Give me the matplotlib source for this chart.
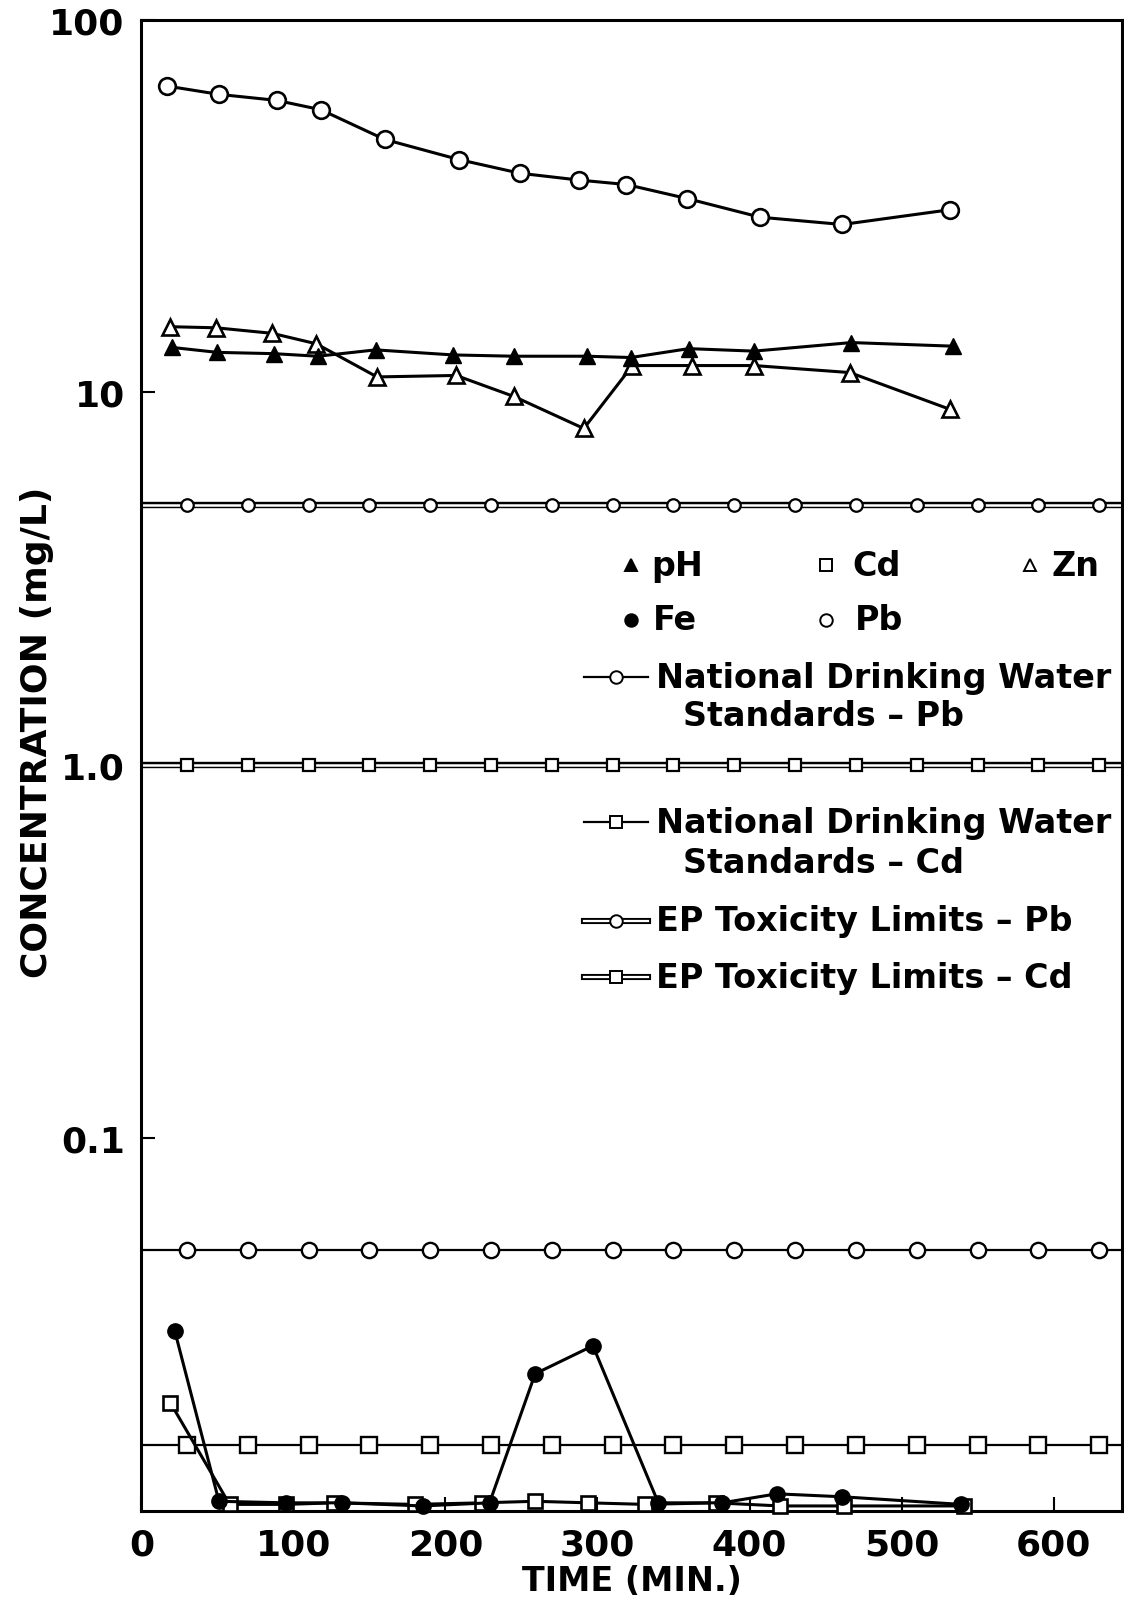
import matplotlib
matplotlib.use("Agg")
import matplotlib.pyplot as plt

plt.rcParams['font.family'] = ['DejaVu Sans']
plt.rcParams['font.weight'] = 'bold'
plt.rcParams['axes.labelweight'] = 'bold'

# data (time in min, concentration in mg/L)
pb_t = [17, 51, 89, 118, 160, 209, 249, 288, 319, 359, 407, 461, 532]
pb_v = [66.3, 63.0, 60.7, 57.3, 47.7, 42.1, 38.7, 37.1, 36.1, 33.1, 29.5, 28.2, 30.9]

zn_t = [19, 49, 86, 115, 155, 207, 245, 291, 323, 362, 403, 466, 532]
zn_v = [15.0, 14.9, 14.4, 13.5, 11.0, 11.1, 9.75, 8.0, 11.8, 11.8, 11.8, 11.3, 9.0]

ph_t = [20, 50, 87, 116, 154, 205, 245, 293, 322, 360, 403, 467, 534]
ph_v = [13.2, 12.8, 12.7, 12.5, 13.0, 12.6, 12.5, 12.5, 12.4, 13.1, 12.9, 13.6, 13.3]

fe_t = [22, 51, 95, 132, 185, 229, 259, 297, 340, 382, 418, 461, 539]
fe_v = [0.0303, 0.0106, 0.0105, 0.0105, 0.0103, 0.0105, 0.0233, 0.0277, 0.0105, 0.0105, 0.0111, 0.0109, 0.0104]

cd_t = [19, 58, 95, 127, 180, 224, 259, 294, 331, 378, 420, 462, 541]
cd_v = [0.0195, 0.0104, 0.0104, 0.0105, 0.0104, 0.0105, 0.0106, 0.0105, 0.0104, 0.0105, 0.0103, 0.0103, 0.0103]

# regulatory limits
ref_t = [30, 70, 110, 150, 190, 230, 270, 310, 350, 390, 430, 470, 510, 550, 590, 630]
ep_pb = 5.0
ep_cd = 1.0
ndw_pb = 0.05
ndw_cd = 0.015

xticks = [0, 100, 200, 300, 400, 500, 600]
yticks = [0.1, 1, 10, 100]
ytick_labels = ['0.1', '1.0', '10', '100']

fig = plt.figure(figsize=(11.24, 16.06), dpi=100)
ax = fig.add_axes([0.1258, 0.0587, 0.8724, 0.9285])
ax.set_yscale('log')
ax.set_xlim(0, 645)
ax.set_ylim(0.01, 100)

# limit lines: double line for EP toxicity, single for drinking water
for val, mk in [(ep_pb, 'o'), (ep_cd, 's')]:
    ax.axhline(val, color='black', lw=4.6, zorder=2)
    ax.axhline(val, color='white', lw=1.8, zorder=2)
    ax.plot(ref_t, [val] * len(ref_t), ls='none', marker=mk, ms=9, mfc='white',
            mec='black', mew=1.6, zorder=3)
for val, mk in [(ndw_pb, 'o'), (ndw_cd, 's')]:
    ax.axhline(val, color='black', lw=1.6, zorder=2)
    ax.plot(ref_t, [val] * len(ref_t), ls='none', marker=mk, ms=11, mfc='white',
            mec='black', mew=1.7, zorder=3)

lw = 2.2
ax.plot(pb_t, pb_v, color='black', lw=lw, marker='o', ms=12, mfc='white', mec='black', mew=1.9, zorder=5)
ax.plot(zn_t, zn_v, color='black', lw=lw, marker='^', ms=11, mfc='white', mec='black', mew=1.9, zorder=5)
ax.plot(ph_t, ph_v, color='black', lw=lw, marker='^', ms=11, mfc='black', mec='black', zorder=6)
ax.plot(cd_t, cd_v, color='black', lw=lw, marker='s', ms=10, mfc='white', mec='black', mew=1.9,
        zorder=5, clip_on=False)
ax.plot(fe_t, fe_v, color='black', lw=lw, marker='o', ms=11, mfc='black', mec='black',
        zorder=6, clip_on=False)

ax.set_xticks(xticks)
ax.set_yticks(yticks)
ax.set_yticklabels(ytick_labels)
ax.minorticks_off()
ax.tick_params(direction='in', length=10, width=1.5, labelsize=26, pad=12)
for s in ax.spines.values():
    s.set_linewidth(2.2)

ax.set_xlabel('TIME (MIN.)', fontsize=24, fontweight='bold', labelpad=2)
fig.text(0.033, 0.544, 'CONCENTRATION (mg/L)', rotation=90, fontsize=26,
         fontweight='bold', ha='center', va='center')

# legend drawn inside the axes
def ax_xy(px, py):
    return (px - 138) / 957, (1476 - py) / 1456

tkw = dict(transform=ax.transAxes, fontsize=24, fontweight='bold', va='center', ha='left')

for px, py, mk, fill, label, tx in [(616, 553, '^', 'black', 'pH', 636),
                                     (806, 553, 's', 'white', 'Cd', 832),
                                     (1005, 553, '^', 'white', 'Zn', 1026),
                                     (616, 606, 'o', 'black', 'Fe', 637),
                                     (806, 606, 'o', 'white', 'Pb', 834)]:
    x, y = ax_xy(px, py)
    ax.plot([x], [y], marker=mk, ms=9, mfc=fill, mec='black', mew=1.4,
            transform=ax.transAxes, clip_on=False)
    x, y = ax_xy(tx, py)
    ax.text(x, y, label, **tkw)

def line_key(py, mk, double):
    x0, y = ax_xy(570, py)
    x1, _ = ax_xy(632, py)
    xm = (x0 + x1) / 2
    if double:
        ax.plot([x0, x1], [y, y], color='black', lw=4.4, transform=ax.transAxes)
        ax.plot([x0, x1], [y, y], color='white', lw=1.6, transform=ax.transAxes)
    else:
        ax.plot([x0, x1], [y, y], color='black', lw=1.6, transform=ax.transAxes)
    ax.plot([xm], [y], marker=mk, ms=9, mfc='white', mec='black', mew=1.4,
            transform=ax.transAxes)

line_key(662, 'o', False)
ax.text(*ax_xy(640, 662), 'National Drinking Water', **tkw)
ax.text(*ax_xy(667, 700), 'Standards \u2013 Pb', **tkw)
line_key(804, 's', False)
ax.text(*ax_xy(640, 804), 'National Drinking Water', **tkw)
ax.text(*ax_xy(667, 843), 'Standards \u2013 Cd', **tkw)
line_key(900, 'o', True)
ax.text(*ax_xy(640, 900), 'EP Toxicity Limits \u2013 Pb', **tkw)
line_key(955, 's', True)
ax.text(*ax_xy(640, 955), 'EP Toxicity Limits \u2013 Cd', **tkw)

fig.savefig('out.png', dpi=100)
